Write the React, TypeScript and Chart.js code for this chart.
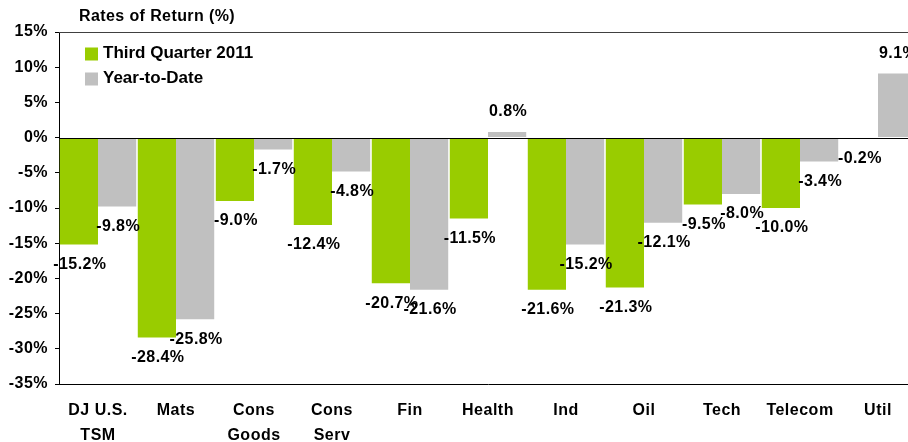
import React, { useEffect, useRef } from "react";
import { Chart, registerables } from "chart.js";

Chart.register(...registerables);

const categories: (string | string[])[] = [
  ["DJ U.S.", "TSM"],
  "Mats",
  ["Cons", "Goods"],
  ["Cons", "Serv"],
  "Fin",
  "Health",
  "Ind",
  "Oil",
  "Tech",
  "Telecom",
  "Util",
];
const thirdQuarter2011 = [-15.2, -28.4, -9.0, -12.4, -20.7, -11.5, -21.6, -21.3, -9.5, -10.0, -0.2];
const yearToDate = [-9.8, -25.8, -1.7, -4.8, -21.6, 0.8, -15.2, -12.1, -8.0, -3.4, 9.1];
const seriesNames = ["Third Quarter 2011", "Year-to-Date"];
const chartTitle = "Rates of Return (%)";
const yMin = -35;
const yMax = 15;
const yStep = 5;

const GREEN = "#99CC00";
const GRAY = "#C0C0C0";
const FONT = "'Liberation Sans', Arial, sans-serif";

const spacingPlugin = {
  id: "spacing",
  beforeDraw(chart: any) {
    (chart.ctx as any).letterSpacing = "0.5px";
  },
};

const overlayPlugin = {
  id: "overlay",
  afterDatasetsDraw(chart: any) {
    const ctx = chart.ctx as any;
    const area = chart.chartArea;
    const yScale = chart.scales.y;
    ctx.save();
    // zero line
    const y0 = Math.round(yScale.getPixelForValue(0)) + 0.5;
    ctx.strokeStyle = "#000";
    ctx.lineWidth = 1;
    ctx.beginPath();
    ctx.moveTo(area.left, y0);
    ctx.lineTo(area.right, y0);
    ctx.stroke();
    // top border
    ctx.strokeStyle = "#404040";
    ctx.beginPath();
    ctx.moveTo(area.left, Math.round(area.top) + 0.5);
    ctx.lineTo(area.right, Math.round(area.top) + 0.5);
    ctx.stroke();
    // value labels
    ctx.fillStyle = "#000";
    ctx.letterSpacing = "0.4px";
    ctx.font = `bold 16px ${FONT}`;
    ctx.textAlign = "center";
    ctx.textBaseline = "middle";
    chart.data.datasets.forEach((ds: any, i: number) => {
      const meta = chart.getDatasetMeta(i);
      meta.data.forEach((el: any, j: number) => {
        const v = ds.data[j] as number;
        const y = v < 0 ? el.y + 20 : el.y - 20;
        ctx.fillText(v.toFixed(1) + "%", el.x + 1, y);
      });
    });
    // title
    ctx.textAlign = "left";
    ctx.letterSpacing = "0.4px";
    ctx.font = `bold 16px ${FONT}`;
    ctx.fillText(chartTitle, 79, 17);
    // legend
    const colors = [GREEN, GRAY];
    ctx.letterSpacing = "0px";
    ctx.font = `bold 17px ${FONT}`;
    seriesNames.forEach((name, i) => {
      const cy = 54 + i * 25;
      ctx.fillStyle = colors[i];
      ctx.fillRect(85, cy - 6.5, 13, 13);
      ctx.fillStyle = "#000";
      ctx.fillText(name, 103, cy - 1);
    });
    ctx.restore();
  },
};

export default function App() {
  const ref = useRef<HTMLCanvasElement | null>(null);
  useEffect(() => {
    if (!ref.current) return;
    const chart = new Chart(ref.current, {
      type: "bar",
      data: {
        labels: categories,
        datasets: [
          {
            label: seriesNames[0],
            data: thirdQuarter2011,
            backgroundColor: GREEN,
            borderWidth: 0,
            categoryPercentage: 0.98,
            barPercentage: 1.0,
          },
          {
            label: seriesNames[1],
            data: yearToDate,
            backgroundColor: GRAY,
            borderWidth: 0,
            categoryPercentage: 0.98,
            barPercentage: 1.0,
          },
        ],
      },
      options: {
        responsive: false,
        animation: false,
        layout: { padding: { top: 32, left: 0, right: 3, bottom: 0 } },
        plugins: {
          legend: { display: false },
          tooltip: { enabled: false },
          title: { display: false },
        },
        scales: {
          x: {
            grid: { display: false, drawTicks: false },
            border: { display: true, color: "#000", width: 1 },
            ticks: {
              color: "#000",
              padding: 14,
              font: { family: FONT, size: 16, weight: "bold", lineHeight: 1.55 },
              maxRotation: 0,
              autoSkip: false,
            },
            afterFit(scale: any) {
              scale.height = 58;
            },
          },
          y: {
            min: yMin,
            max: yMax,
            grid: {
              display: true,
              drawOnChartArea: false,
              drawTicks: true,
              tickLength: 4,
              color: "#000",
            },
            border: { display: true, color: "#000", width: 1 },
            ticks: {
              stepSize: yStep,
              color: "#000",
              padding: 7,
              font: { family: FONT, size: 16, weight: "bold" },
              callback: (v: any) => `${v}%`,
            },
            afterFit(scale: any) {
              scale.width = 59;
            },
          },
        },
      },
      plugins: [spacingPlugin, overlayPlugin],
    });
    return () => chart.destroy();
  }, []);
  return (
    <div style={{ position: "absolute", left: 0, top: 0, width: 908, height: 442, overflow: "hidden", background: "#fff" }}>
      <canvas ref={ref} width={920} height={442} style={{ display: "block" }} />
    </div>
  );
}
